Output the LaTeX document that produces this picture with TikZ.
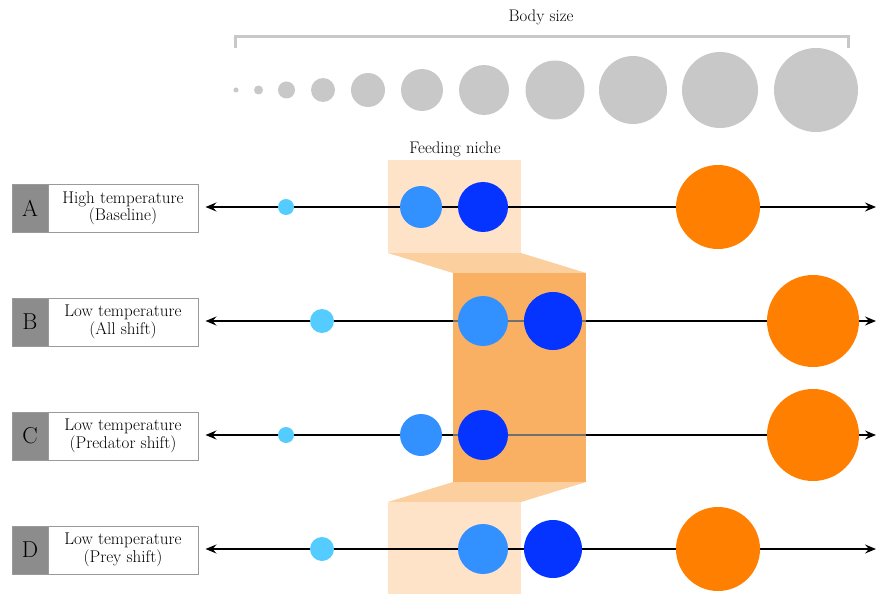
\documentclass[tikz,border=0pt]{standalone}
\usepackage{fontspec}
\usepackage{tikz}
\usetikzlibrary{arrows.meta}
\definecolor{bodygray}{HTML}{C8C8C8}
\definecolor{keygray}{HTML}{8C8C8C}
\definecolor{framegray}{HTML}{9A9A9A}
\definecolor{preyblue}{HTML}{55CCFF}
\definecolor{midblue}{HTML}{3390FF}
\definecolor{deepblue}{HTML}{0533FF}
\definecolor{predorange}{HTML}{FF7F00}
\definecolor{nichelight}{HTML}{FFE3C8}
\definecolor{nichemid}{HTML}{FCCF9E}
\definecolor{nichedark}{HTML}{F9B062}
\definecolor{linegray}{HTML}{707070}

\begin{document}
\begin{tikzpicture}[x=1pt,y=-1pt,
    keybox/.style={draw=framegray,line width=1pt,fill=keygray,minimum width=36pt,minimum height=48pt,inner sep=0pt,font=\fontsize{23}{25}\selectfont},
    descbox/.style={draw=framegray,line width=1pt,fill=white,minimum width=150pt,minimum height=48pt,inner sep=0pt,align=center,font=\fontsize{17}{17.5}\selectfont},
    sizeaxis/.style={line width=2.5pt,{Stealth[length=11pt,width=9pt,inset=4pt]}-{Stealth[length=11pt,width=9pt,inset=4pt]}},
    sp/.style={circle,inner sep=0pt,minimum size=#1},
    heading/.style={font=\fontsize{16.8}{18}\selectfont}]
    \useasboundingbox (0,0) rectangle (876,594);
    % body size scale
    \node[heading] (bodysize) at (541,17) {Body size};
    \draw[bodygray,line width=3pt] (235,48)--(235,37)--(848,37)--(848,48);
    \foreach \cx/\r [count=\i] in {236/2.5,258.5/4.5,286.5/8.5,323/12,368/17,422/21,484/25,555/29.5,633/34,720/38,816/42}
        \node[sp=2*\r,fill=bodygray] (size\i) at (\cx,90) {};
    % feeding niche
    \node[heading] (niche) at (455,149) {Feeding niche};
    \fill[nichelight] (388,160) rectangle (521,253);
    \fill[nichemid] (388,253)--(521,253)--(586,273)--(453,273)--cycle;
    \fill[nichedark] (453,273) rectangle (586,482);
    \fill[nichemid] (453,482)--(586,482)--(521,502)--(388,502)--cycle;
    \fill[nichelight] (388,502) rectangle (521,594);
    % rows
    \foreach \y/\k/\top/\bot in {207/A/{High temperature}/{(Baseline)},321/B/{Low temperature}/{(All shift)},435/C/{Low temperature}/{(Predator shift)},549/D/{Low temperature}/{(Prey shift)}}{
        \node[keybox] (key\k) at (30,\y+1) {\k};
        \node[descbox] (desc\k) at (123,\y+1) {\top\\\bot};
        \coordinate (end\k) at (876,\y);
        \draw[sizeaxis] ([xshift=7pt]desc\k.east |- end\k) -- (end\k);
    }
    \draw[linegray,line width=2.5pt] (453,321)--(586,321);
    \draw[linegray,line width=2.5pt] (453,435)--(586,435);
    % species
    \node[sp=16,fill=preyblue] (preyA) at (286,207) {};
    \node[sp=42,fill=midblue] (consA) at (421,207) {};
    \node[sp=50,fill=deepblue] (predA) at (483,207) {};
    \node[sp=84,fill=predorange] (topA) at (718,207) {};
    \node[sp=24,fill=preyblue] (preyB) at (322,321) {};
    \node[sp=50,fill=midblue] (consB) at (483,321) {};
    \node[sp=58,fill=deepblue] (predB) at (553,321) {};
    \node[sp=92,fill=predorange] (topB) at (813,321) {};
    \node[sp=16,fill=preyblue] (preyC) at (286,435) {};
    \node[sp=42,fill=midblue] (consC) at (421,435) {};
    \node[sp=50,fill=deepblue] (predC) at (483,435) {};
    \node[sp=92,fill=predorange] (topC) at (813,435) {};
    \node[sp=24,fill=preyblue] (preyD) at (322,549) {};
    \node[sp=50,fill=midblue] (consD) at (483,549) {};
    \node[sp=58,fill=deepblue] (predD) at (553,549) {};
    \node[sp=84,fill=predorange] (topD) at (718,549) {};
\end{tikzpicture}
\end{document}
